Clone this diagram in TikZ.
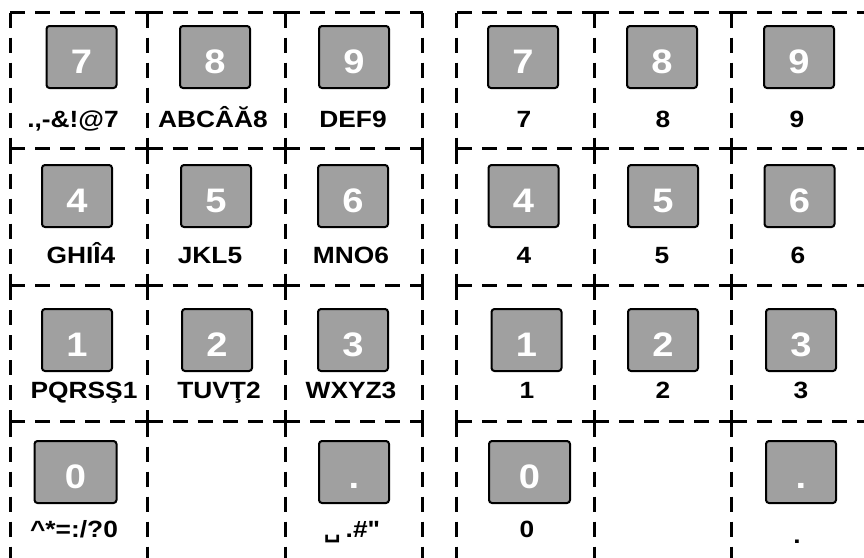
\documentclass[tikz,border=0pt]{standalone}
\usepackage{fontspec}
\setmainfont[FakeStretch=1.12]{Liberation Sans}
\newfontfamily\plainfont[FakeStretch=1.12]{Liberation Sans}
\newfontfamily\symfont{DejaVu Sans}
\definecolor{keygray}{HTML}{A0A0A0}
\begin{document}
\begin{tikzpicture}[x=1pt,y=-1pt,
  cell/.style={minimum width=137.5pt, minimum height=136.5pt, inner sep=0pt, outer sep=0pt},
  lastcell/.style={cell, minimum height=140pt},
  gridline/.style={dash pattern=on 15pt off 10pt, line width=3pt},
  keybox/.style={draw, line width=2pt, rounded corners=3pt, fill=keygray, minimum width=70pt, minimum height=62pt, inner sep=0pt},
  digit/.style={font=\fontsize{34}{34}\selectfont\bfseries, text=white, anchor=base, inner sep=0pt},
  lab/.style={font=\fontsize{23.5}{24}\selectfont\bfseries, anchor=base, inner sep=0pt}]
\useasboundingbox (0,0) rectangle (864,557);
% ---- cells (left pad L, right pad R; rows A-D, columns 1-3)
\foreach \p/\x in {L/0,R/446.75}{
  \foreach \cx [count=\i] in {78.75,216.25,353.75}{
    \node[cell] (\p A\i) at (\cx+\x,80.75) {};
    \node[cell] (\p B\i) at (\cx+\x,216.75) {};
    \node[cell] (\p C\i) at (\cx+\x,353.25) {};
    \node[lastcell] (\p D\i) at (\cx+\x,491.5) {};
  }
}
% ---- dashed cell borders: top and left edge of each cell, closing edges
\foreach \p in {L,R}{
  \foreach \r in {A,B,C,D}{
    \foreach \i in {1,2,3}{
      \draw[gridline] (\p\r\i.north west) -- (\p\r\i.north east);
      \draw[gridline] (\p\r\i.north west) -- (\p\r\i.south west);
    }
    \draw[gridline] (\p\r3.north east) -- (\p\r3.south east);
  }
  \foreach \i in {1,2,3}{
    \draw[gridline] (\p D\i.south west) -- (\p D\i.south east);
  }
}
% ---- left pad keys
\node[keybox] (lk7) at (81.5,57) {};
\node[keybox] (lk8) at (215,57) {};
\node[keybox] (lk9) at (354,57) {};
\node[keybox] (lk4) at (77,196) {};
\node[keybox] (lk5) at (216,196) {};
\node[keybox] (lk6) at (353,196) {};
\node[keybox] (lk1) at (77,340) {};
\node[keybox] (lk2) at (217,340) {};
\node[keybox] (lk3) at (353,340) {};
\node[keybox, minimum width=82pt] (lk0) at (75.5,472) {};
\node[keybox] (lkd) at (354,472) {};
% ---- right pad keys
\node[keybox] (rk7) at (523,57) {};
\node[keybox] (rk8) at (662,57) {};
\node[keybox] (rk9) at (799,57) {};
\node[keybox] (rk4) at (523.5,196) {};
\node[keybox] (rk5) at (663,196) {};
\node[keybox] (rk6) at (799.5,196) {};
\node[keybox] (rk1) at (526.5,340) {};
\node[keybox] (rk2) at (663,340) {};
\node[keybox] (rk3) at (801,340) {};
\node[keybox, minimum width=81pt] (rk0) at (529.5,472) {};
\node[keybox] (rkd) at (801,472) {};
% ---- digits on keys
\foreach \k/\t in {lk7/7,lk8/8,lk9/9,lk4/4,lk5/5,lk6/6,lk1/1,lk2/2,lk3/3,lk0/0,lkd/.,
                   rk7/7,rk8/8,rk9/9,rk4/4,rk5/5,rk6/6,rk1/1,rk2/2,rk3/3,rk0/0,rkd/.}{
  \node[digit] (d\k) at ([yshift=-16pt]\k.center) {\t};
}
% ---- left pad labels
\node[lab] (l7) at (73,127) {.,-\&!@7};
\node[lab] (l8) at (213,127) {ABCÂĂ8};
\node[lab] (l9) at (353,127) {DEF9};
\node[lab] (l4) at (81,263) {GHIÎ4};
\node[lab] (l5) at (210,263) {JKL5};
\node[lab] (l6) at (351,263) {MNO6};
\node[lab] (l1) at (84,398) {PQRSŞ1};
\node[lab] (l2) at (219,398) {TUVŢ2};
\node[lab] (l3) at (351,398) {WXYZ3};
\node[lab] (l0) at (74,537) {\textasciicircum*=:/?0};
\node[lab] (ld) at (352,537) {{\symfont\char"2423}\hspace{5pt}.\#{\plainfont"}};
% ---- right pad labels
\node[lab] (r7) at (524,127) {7};
\node[lab] (r8) at (663,127) {8};
\node[lab] (r9) at (797,127) {9};
\node[lab] (r4) at (524,263) {4};
\node[lab] (r5) at (662,263) {5};
\node[lab] (r6) at (798,263) {6};
\node[lab] (r1) at (527,398) {1};
\node[lab] (r2) at (663,398) {2};
\node[lab] (r3) at (801,398) {3};
\node[lab] (r0) at (527,537) {0};
\node[lab] (rd) at (797,543) {.};
\end{tikzpicture}
\end{document}
